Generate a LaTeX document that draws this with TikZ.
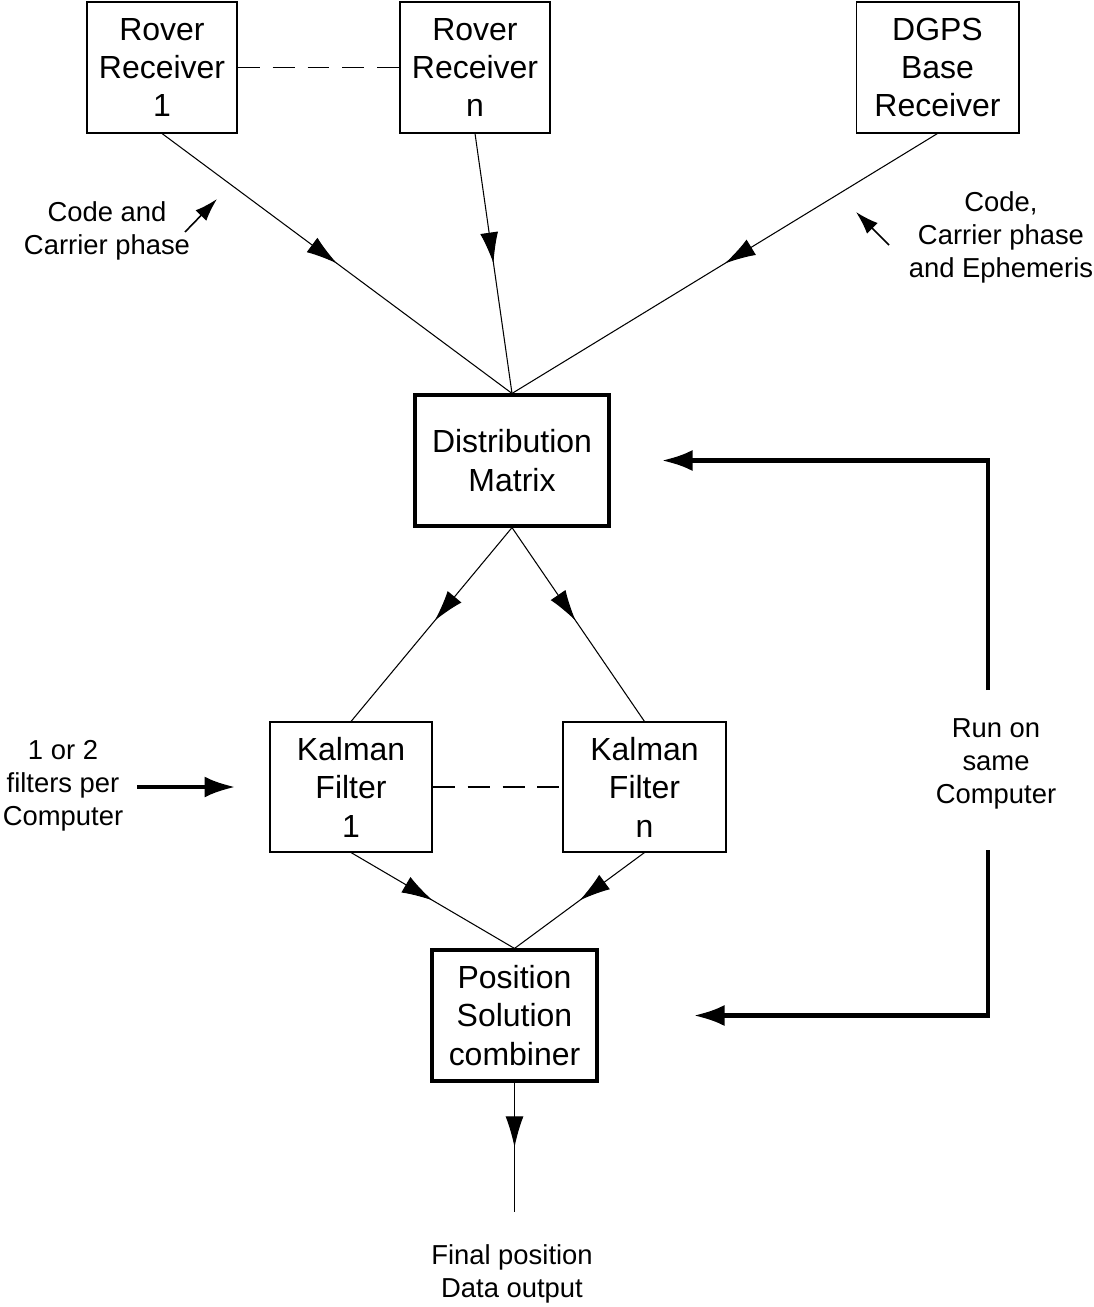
\documentclass[tikz,border=0pt]{standalone}
\usepackage{fontspec}
\setmainfont{Liberation Sans}
\usetikzlibrary{arrows.meta,decorations.markings}
\tikzset{
  box/.style={draw,line width=0.6pt,align=center,inner sep=0pt,
    minimum height=2.62cm,font=\fontsize{18.2}{21.9}\selectfont},
  bigbox/.style={box,line width=1.8pt},
  lbl/.style={align=center,inner sep=0pt,font=\fontsize{15.6}{18.8}\selectfont},
  thin/.style={line width=0.6pt},
  midarrow/.style={thin,postaction={decorate},decoration={markings,
    mark=at position #1 with {\arrow{Latex[length=0.62cm,width=0.36cm]}}}},
  bigarrow/.style={line width=2.5pt,-{Latex[length=0.62cm,width=0.42cm]}},
  smallarrow/.style={line width=0.9pt,-{Latex[length=0.46cm,width=0.3cm]}},
  dashline/.style={line width=1.1pt,dash pattern=on 0.44cm off 0.26cm}
}
\begin{document}
\begin{tikzpicture}[x=0.02cm,y=-0.02cm]
      \useasboundingbox (0,0) rectangle (1093,1307);
      \node[box,minimum width=3cm] (rr1) at (162,67.5) {Rover\\Receiver\\1};
      \node[box,minimum width=3cm] (rrn) at (475,67.5) {Rover\\Receiver\\n};
      \node[box,minimum width=3.26cm] (dgps) at (937.5,67.5) {DGPS\\Base\\Receiver};
      \node[bigbox,minimum width=3.88cm] (dm) at (512,460.5) {Distribution\\Matrix};
      \node[box,minimum width=3.24cm,minimum height=2.6cm] (kf1) at (351,787) {Kalman\\Filter\\1};
      \node[box,minimum width=3.26cm,minimum height=2.6cm] (kfn) at (644.5,787) {Kalman\\Filter\\n};
      \node[bigbox,minimum width=3.3cm] (psc) at (514.5,1015.5) {Position\\Solution\\combiner};
      \node[lbl] (codein) at (107,231) {Code and\\Carrier phase};
      \node[lbl] (codebase) at (1001,237) {Code,\\Carrier phase\\and Ephemeris};
      \node[lbl] (filt) at (63,786) {1 or 2\\filters per\\Computer};
      \node[lbl] (run) at (996,764) {Run on\\same\\Computer};
      \node[lbl] (final) at (512,1274) {Final position\\Data output};
      \coordinate (a1) at (185,232);
      \coordinate (a2) at (217,199);
      \coordinate (b1) at (889,245);
      \coordinate (b2) at (856,212);
      \coordinate (filtin) at (137,787);
      \coordinate (r1) at (988,690);
      \coordinate (r2) at (988,850);
      \coordinate (out) at (514.5,1212);
      \begin{scope}[-]
        \draw[midarrow=0.5] (rr1.south) to (dm.north);
        \draw[midarrow=0.5] (rrn.south) to (dm.north);
        \draw[midarrow=0.5] (dgps.south) to (dm.north);
        \draw[midarrow=0.48] (dm.south) to (kf1.north);
        \draw[midarrow=0.48] (dm.south) to (kfn.north);
        \draw[midarrow=0.5] (kf1.south) to (psc.north);
        \draw[midarrow=0.5] (kfn.south) to (psc.north);
        \draw[midarrow=0.5] (psc.south) to (out);
        \draw[dashline] (rr1.east) to (rrn.west);
        \draw[dashline] (kf1.east) to (kfn.west);
      \end{scope}
      \draw[smallarrow] (a1) -- (a2);
      \draw[smallarrow] (b1) -- (b2);
      \draw[bigarrow,shorten >=0.68cm] (filtin) -- (kf1.west);
      \draw[bigarrow,shorten >=1.02cm] (r1) |- (dm.east);
      \draw[bigarrow,shorten >=1.9cm] (r2) |- (psc.east);
    \end{tikzpicture}
\end{document}
